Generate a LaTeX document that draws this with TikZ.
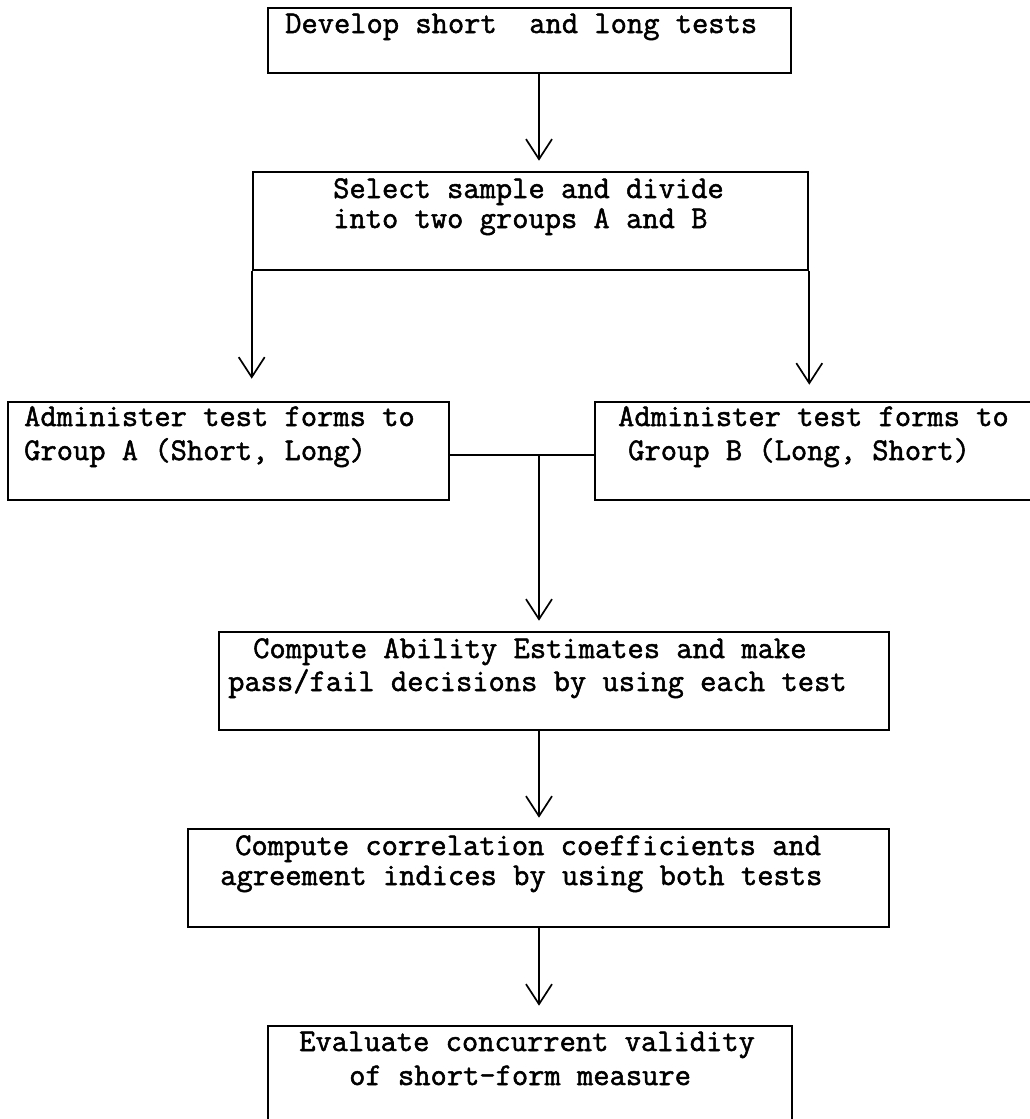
\documentclass[tikz,border=0pt]{standalone}
\usepackage{fontspec}
\newfontfamily\tw{Latin Modern Mono}[FakeBold=1.6]
\usetikzlibrary{arrows.meta}
\begin{document}
\begin{tikzpicture}[x=1pt,y=-1pt,
  box/.style={draw,line width=2.6pt,inner sep=0pt},
  txt/.style={anchor=base west,inner sep=0pt,font=\tw\fontsize{31.6pt}{34pt}\selectfont},
  arr/.style={line width=1.7pt,-{Straight Barb[length=20pt,width=26pt,line width=1.7pt]}},
  link/.style={line width=2.2pt}]
\useasboundingbox (0,0) rectangle (1030,1119);
\clip (0,0) rectangle (1030,1119);
\node[box,minimum width=523pt,minimum height=65pt] (dev) at (529.5,40.5) {};
\node[box,minimum width=555pt,minimum height=98pt] (sel) at (530.5,221) {};
\node[box,minimum width=441pt,minimum height=98pt] (ga) at (228.5,451) {};
\node[box,minimum width=450pt,minimum height=98pt] (gb) at (820,451) {};
\node[box,minimum width=670pt,minimum height=98pt] (abl) at (554,681) {};
\node[box,minimum width=701pt,minimum height=98pt] (cor) at (538.5,878) {};
\node[box,minimum width=524pt,minimum height=114pt] (eva) at (530,1083) {};
\coordinate (col) at (539,0);
\coordinate (mid) at (0,455);
\node[txt] (t1) at (285,33) {Develop short\ \ and long tests};
\node[txt] (t2a) at (333,198) {Select sample and divide};
\node[txt] (t2b) at (333,228) {into two groups A and B};
\node[txt] (t3a) at (24,426) {Administer test forms to};
\node[txt] (t3b) at (24,460) {Group A (Short, Long)};
\node[txt] (t4a) at (618,426) {Administer test forms to};
\node[txt] (t4b) at (628,460) {Group B (Long, Short)};
\node[txt] (t5a) at (253,658) {Compute Ability Estimates and make};
\node[txt] (t5b) at (228,691) {pass/fail decisions by using each test};
\node[txt] (t6a) at (235,855) {Compute correlation coefficients and};
\node[txt] (t6b) at (220,885) {agreement indices by using both tests};
\node[txt] (t7a) at (299,1051) {Evaluate concurrent validity};
\node[txt] (t7b) at (349,1085) {of short-form measure};
\draw[arr,shorten >=10pt] (dev.south -| col) -- (sel.north -| col);
\draw[arr,shorten >=22pt] (sel.south west) -- (sel.south west |- ga.north);
\draw[arr,shorten >=16pt] (sel.south east) -- (sel.south east |- gb.north);
\draw[link] (ga.east |- mid) -- (gb.west |- mid);
\draw[arr,shorten >=10pt] (col |- mid) -- (abl.north -| col);
\draw[arr,shorten >=10pt] (abl.south -| col) -- (cor.north -| col);
\draw[arr,shorten >=19pt] (cor.south -| col) -- (eva.north -| col);
\end{tikzpicture}
\end{document}
